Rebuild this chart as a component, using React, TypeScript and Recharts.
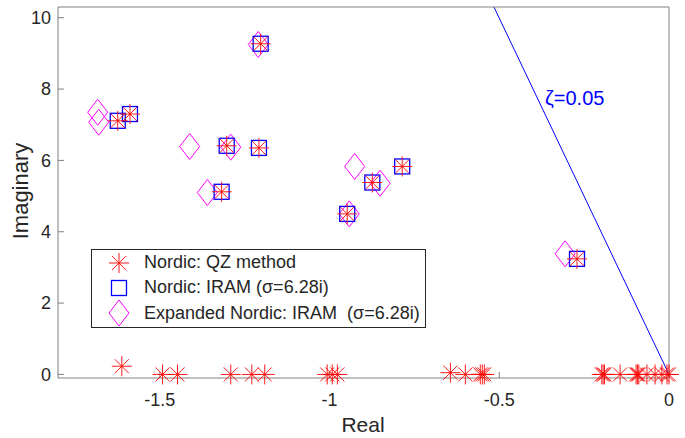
import React from 'react';
import { ScatterChart, Scatter, XAxis, YAxis, ReferenceLine, ReferenceDot, Legend } from 'recharts';

const qzReal = [
    -1.203, -1.624, -1.588, -1.303, -1.208, -1.318, -0.874, -0.786, -0.948, -0.271, -1.612,
    -1.492, -1.448, -1.291, -1.229, -1.191, -1.007, -0.992, -0.977, -0.644, -0.600,
    -0.556, -0.550, -0.544, -0.198, -0.194, -0.190, -0.144, -0.097, -0.093, -0.089,
    -0.065, -0.041, -0.021, -0.006, 0.0,
];
const qzImag = [
    9.27, 7.11, 7.30, 6.41, 6.35, 5.12, 5.38, 5.83, 4.50, 3.24, 0.23,
    0, 0, 0, 0, 0, 0, 0, 0, 0.05, 0,
    0, 0, 0, 0, 0, 0, 0, 0, 0, 0,
    0, 0, 0, 0, 0,
];
const iramReal = [-1.203, -1.624, -1.588, -1.303, -1.208, -1.318, -0.874, -0.786, -0.948, -0.271];
const iramImag = [9.27, 7.11, 7.30, 6.41, 6.35, 5.12, 5.38, 5.83, 4.50, 3.24];
const expReal = [-1.210, -1.683, -1.680, -1.412, -1.291, -1.360, -0.926, -0.851, -0.942, -0.306];
const expImag = [9.25, 7.35, 7.07, 6.39, 6.37, 5.10, 5.83, 5.36, 4.50, 3.38];

const xTicks = [-1.5, -1, -0.5, 0];
const yTicks = [0, 2, 4, 6, 8, 10];
const zeta = 0.05;
const yTop = 10.3;

const toPoints = (re: number[], im: number[]) => re.map((x, i) => ({ x, y: im[i] }));
const qzData = toPoints(qzReal, qzImag);
const iramData = toPoints(iramReal, iramImag);
const expData = toPoints(expReal, expImag);

const FONT = '"Liberation Sans", Arial, Helvetica, sans-serif';
const AXIS = '#808080';
const TEXT = '#262626';

const Star = ({ cx, cy }: any) => (
    <g stroke="#ff0000" strokeWidth={1} strokeOpacity={0.9}>
        <line x1={cx - 10} y1={cy} x2={cx + 10} y2={cy} />
        <line x1={cx} y1={cy - 10} x2={cx} y2={cy + 10} />
        <line x1={cx - 7} y1={cy - 7} x2={cx + 7} y2={cy + 7} />
        <line x1={cx - 7} y1={cy + 7} x2={cx + 7} y2={cy - 7} />
    </g>
);

const Square = ({ cx, cy }: any) => (
    <rect x={cx - 7.5} y={cy - 7.5} width={15} height={15} fill="none" stroke="#0000ff" strokeWidth={1.3} />
);

const Diamond = ({ cx, cy }: any) => (
    <polygon
        points={`${cx},${cy - 13} ${cx + 10},${cy} ${cx},${cy + 13} ${cx - 10},${cy}`}
        fill="none"
        stroke="#ff00ff"
        strokeWidth={1}
    />
);

const legendItems = [
    { label: 'Nordic: QZ method', Marker: Star },
    { label: 'Nordic: IRAM (σ=6.28i)', Marker: Square },
    { label: 'Expanded Nordic: IRAM  (σ=6.28i)', Marker: Diamond },
];

const renderLegend = () => (
    <div
        style={{
            boxSizing: 'border-box',
            width: 335,
            height: 79,
            border: `1px solid ${TEXT}`,
            background: '#fff',
            fontFamily: FONT,
            fontSize: 18,
            color: TEXT,
        }}
    >
        {legendItems.map(({ label, Marker }) => (
            <div key={label} style={{ display: 'flex', alignItems: 'center', height: 25.3 }}>
                <svg width={52} height={28} style={{ flex: 'none' }}>
                    <Marker cx={27} cy={14} />
                </svg>
                <span style={{ whiteSpace: 'pre' }}>{label}</span>
            </div>
        ))}
    </div>
);

export default function App() {
    return (
        <div style={{ position: 'absolute', left: 0, top: 0, background: '#fff' }}>
            <ScatterChart width={685} height={438} margin={{ top: 6, right: 15, bottom: 0, left: 0 }}>
                <XAxis
                    type="number"
                    dataKey="x"
                    domain={[-1.8, 0]}
                    ticks={xTicks}
                    height={60}
                    stroke={AXIS}
                    tickSize={-6}
                    tickMargin={21}
                    tick={{ fill: TEXT, fontSize: 18, fontFamily: FONT }}
                    label={() => (
                        <text x={363} y={432} textAnchor="middle" fill={TEXT} fontSize={21} fontFamily={FONT}>
                            Real
                        </text>
                    )}
                />
                <XAxis
                    xAxisId="top"
                    orientation="top"
                    type="number"
                    dataKey="x"
                    domain={[-1.8, 0]}
                    ticks={xTicks}
                    height={1}
                    stroke={AXIS}
                    tickSize={-6}
                    tick={false}
                />
                <YAxis
                    type="number"
                    dataKey="y"
                    domain={[-0.1, yTop]}
                    ticks={yTicks}
                    width={58}
                    stroke={AXIS}
                    tickSize={-6}
                    tickMargin={13}
                    tick={{ fill: TEXT, fontSize: 18, fontFamily: FONT }}
                    label={() => (
                        <text x={28} y={191} transform="rotate(-90 28 191)" textAnchor="middle" fill={TEXT} fontSize={22} fontFamily={FONT}>
                            Imaginary
                        </text>
                    )}
                />
                <YAxis
                    yAxisId="right"
                    orientation="right"
                    type="number"
                    dataKey="y"
                    domain={[-0.1, yTop]}
                    ticks={yTicks}
                    width={1}
                    stroke={AXIS}
                    tickSize={-6}
                    tick={false}
                />
                <ReferenceLine
                    segment={[{ x: 0, y: 0 }, { x: -yTop * zeta / Math.sqrt(1 - zeta * zeta), y: yTop }]}
                    stroke="#0000ff"
                    strokeWidth={1}
                />
                <ReferenceDot
                    x={-0.38}
                    y={7.75}
                    r={0}
                    stroke="none"
                    fill="none"
                    label={{ value: 'ζ=0.05', position: 'right', fill: '#0000ff', fontSize: 20, fontFamily: FONT }}
                />
                <Scatter name="Expanded Nordic: IRAM  (σ=6.28i)" data={expData} shape={(p: any) => <Diamond cx={p.cx} cy={p.cy} />} isAnimationActive={false} />
                <Scatter name="Nordic: IRAM (σ=6.28i)" data={iramData} shape={(p: any) => <Square cx={p.cx} cy={p.cy} />} isAnimationActive={false} />
                <Scatter name="Nordic: QZ method" data={qzData} shape={(p: any) => <Star cx={p.cx} cy={p.cy} />} isAnimationActive={false} />
                <Scatter xAxisId="top" yAxisId="right" data={[]} isAnimationActive={false} legendType="none" />
                <Legend
                    layout="vertical"
                    align="center"
                    verticalAlign="middle"
                    content={renderLegend}
                    wrapperStyle={{ left: 91, top: 249, width: 335, height: 79 }}
                />
            </ScatterChart>
        </div>
    );
}
